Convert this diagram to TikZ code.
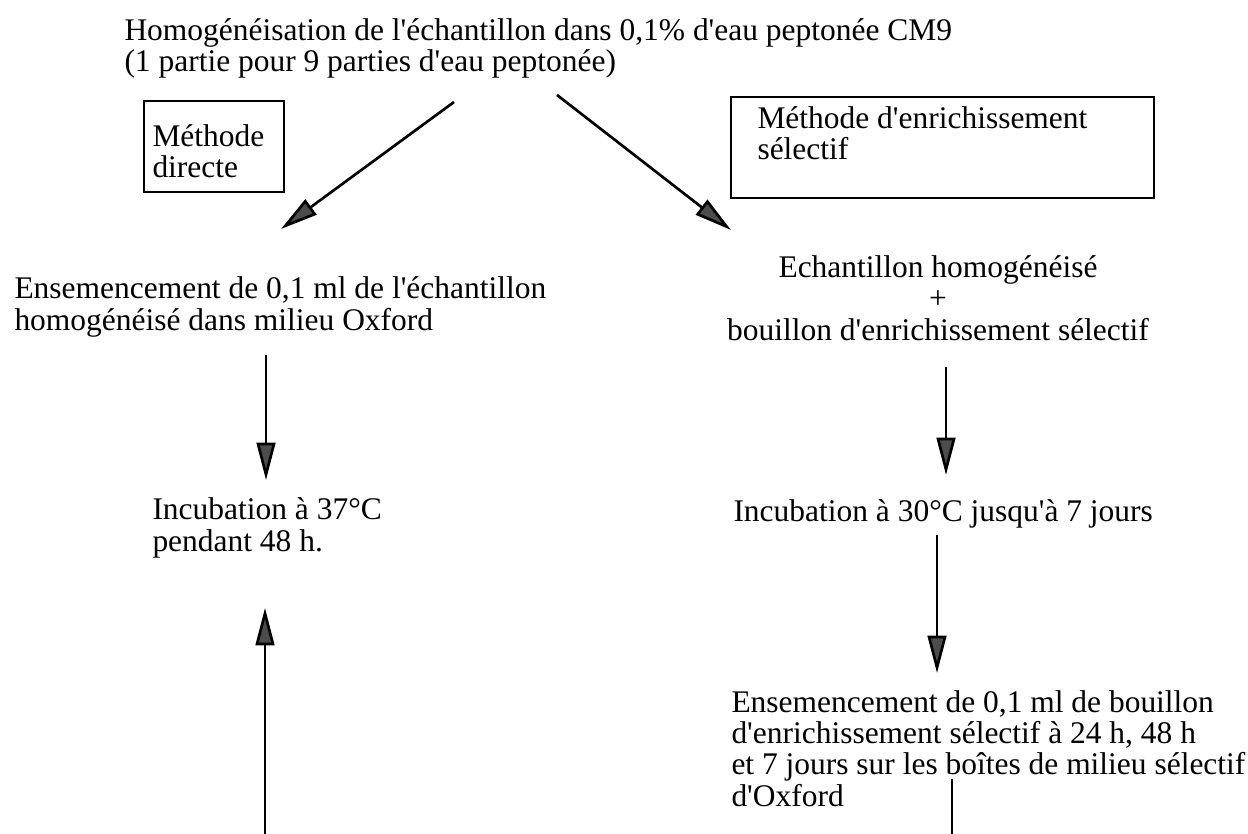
\documentclass[tikz,border=0pt]{standalone}
\usepackage{fontspec}
\setmainfont{Liberation Serif}
\usetikzlibrary{arrows.meta}
\tikzset{every picture/.style={line width=0.75pt}}
\newcommand{\ap}{\textquotesingle}
\newcommand{\tightlines}{\lineskiplimit=-100pt\relax\lineskip=0pt\relax}

\begin{document}
\begin{tikzpicture}[x=0.75pt,y=0.75pt,yscale=-1,xscale=1,
	txt/.style={inner sep=0pt,font=\fontsize{23.6}{23.3}\selectfont\tightlines},
	methbox/.style={draw,line width=1.5pt},
	flow/.style={line width=2pt,-{Triangle[length=28pt,width=14pt,fill=black!70]}}]
	\useasboundingbox (0,0) rectangle (1248,834);
	
	%Texts (base = last line)
	\node[txt,anchor=base west,align=left] (homog) at (124,72) {Homogénéisation de l\ap échantillon dans 0,1\% d\ap eau peptonée CM9\\(1 partie pour 9 parties d\ap eau peptonée)};
	\node[txt,anchor=base west,align=left] (direct) at (152,178) {Méthode\\directe};
	\node[txt,anchor=base west,align=left] (enrich) at (757,160) {Méthode d\ap enrichissement\\sélectif};
	\node[txt,anchor=base west,align=left] (ensemA) at (14,330) {Ensemencement de 0,1 ml de l\ap échantillon\\homogénéisé dans milieu Oxford};
	\node[txt,anchor=base,align=center] (bouillon) at (938,340) {Echantillon homogénéisé\\+\\bouillon d\ap enrichissement sélectif};
	\node[txt,anchor=base west,align=left] (incubA) at (152,551) {Incubation à 37°C\\pendant 48 h.};
	\node[txt,anchor=base west] (incubB) at (733,521) {Incubation à 30°C jusqu\ap à 7 jours};
	\node[txt,anchor=base west,align=left] (ensemB) at (731,806) {Ensemencement de 0,1 ml de bouillon\\d\ap enrichissement sélectif à 24 h, 48 h\\et 7 jours sur les boîtes de milieu sélectif\\d\ap Oxford};
	
	%Shape: Rectangle 
	\draw[methbox] (144,101) rectangle (284,192);
	%Shape: Rectangle 
	\draw[methbox] (731,97) rectangle (1154,198);
	
	%Arrow ends
	\coordinate (l1) at (454,102);
	\coordinate (l2) at (281,229);
	\coordinate (r1) at (557,95);
	\coordinate (r2) at (731,230);
	\coordinate (a1) at (266,355);
	\coordinate (a2) at (266,480);
	\coordinate (b1) at (946,367);
	\coordinate (b2) at (946,475);
	\coordinate (c1) at (937,535);
	\coordinate (c2) at (937,673);
	\coordinate (d1) at (265,834);
	\coordinate (d2) at (265,608);
	\coordinate (e1) at (952,779);
	\coordinate (e2) at (952,834);
	
	\draw[flow] (l1) -- (l2);
	\draw[flow] (r1) -- (r2);
	\draw[flow] (a1) -- (a2);
	\draw[flow] (b1) -- (b2);
	\draw[flow] (c1) -- (c2);
	\draw[flow] (d1) -- (d2);
	\draw[line width=2pt] (e1) -- (e2);
	
\end{tikzpicture}
\end{document}
